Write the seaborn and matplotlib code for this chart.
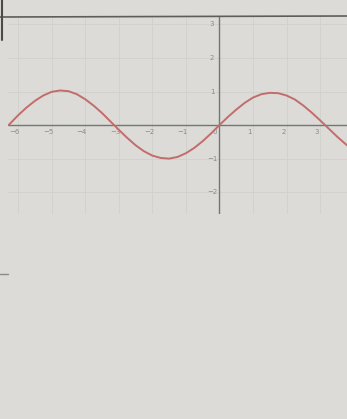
import numpy as np
import pandas as pd
import seaborn as sns
import matplotlib.pyplot as plt
from matplotlib.lines import Line2D

# --- data ---
x_vals = [-6.28, -6.0, -5.75, -5.5, -5.25, -5.0, -4.75, -4.5, -4.25, -4.0,
          -3.75, -3.5, -3.25, -3.0, -2.75, -2.5, -2.25, -2.0, -1.75, -1.5,
          -1.25, -1.0, -0.75, -0.5, -0.25, 0.0, 0.25, 0.5, 0.75, 1.0,
          1.25, 1.5, 1.75, 2.0, 2.25, 2.5, 2.75, 3.0, 3.25, 3.5, 3.75, 3.85]
y_vals = [0.0, 0.29, 0.52, 0.72, 0.88, 0.99, 1.03, 1.01, 0.92, 0.77,
          0.58, 0.36, 0.11, -0.14, -0.38, -0.6, -0.78, -0.91, -0.98, -1.0,
          -0.95, -0.84, -0.68, -0.48, -0.25, 0.0, 0.24, 0.46, 0.66, 0.82,
          0.92, 0.96, 0.95, 0.88, 0.76, 0.58, 0.37, 0.14, -0.1, -0.34, -0.56, -0.64]
x_ticks = [-6, -5, -4, -3, -2, -1, 1, 2, 3]
y_ticks = [3, 2, 1, -1, -2]

df = pd.DataFrame({'x': x_vals, 'y': y_vals})

bg = '#dcdbd7'
sns.set_theme(style="white")
fig = plt.figure(figsize=(3.47, 4.19), dpi=100, facecolor=bg)
W, H = 347, 419
# axes box in pixels: left 8, right 347, top 17, bottom 214
ax = fig.add_axes([8 / W, 1 - 214 / H, 339 / W, 197 / H])
ax.set_facecolor(bg)
ax.set_xlim(-6.3, 3.8)
ax.set_ylim(-2.65, 3.22)

# faint grid
for gx in range(-6, 4):
    ax.axvline(gx, color='#d0d0cc', lw=0.6, zorder=0)
for gy in range(-2, 4):
    ax.axhline(gy, color='#d0d0cc', lw=0.6, zorder=0)

# axes lines
ax.axhline(0, color='#757573', lw=1.0, zorder=1)
ax.axvline(0, color='#757573', lw=1.0, zorder=1)

sns.lineplot(data=df, x='x', y='y', ax=ax, color='#c26d6b', lw=1.4, zorder=3)

for t in x_ticks:
    ax.text(t - 0.1, -0.12, f"{t}".replace('-', '\u2212'), fontsize=5, color='#8a8a88',
            ha='center', va='top')
ax.text(-0.15, -0.12, "0", fontsize=5, color='#8a8a88', ha='center', va='top')
for t in y_ticks:
    ax.text(-0.22, t, f"{t}".replace('-', '\u2212'), fontsize=5, color='#8a8a88',
            ha='center', va='center')

ax.set_xticks([])
ax.set_yticks([])
ax.set_xlabel('')
ax.set_ylabel('')
for s in ax.spines.values():
    s.set_visible(False)

# photo frame lines
fig.add_artist(Line2D([0, 1], [1 - 17 / H, 1 - 16 / H], color='#5d5d5b', lw=1.2))
fig.add_artist(Line2D([1.5 / W, 1.5 / W], [1, 1 - 40 / H], color='#4a4a48', lw=1.5))
fig.add_artist(Line2D([0, 8 / W], [1 - 274 / H, 1 - 274 / H], color='#8a8a88', lw=1.0))

fig.savefig('out.png', dpi=100, facecolor=bg)
